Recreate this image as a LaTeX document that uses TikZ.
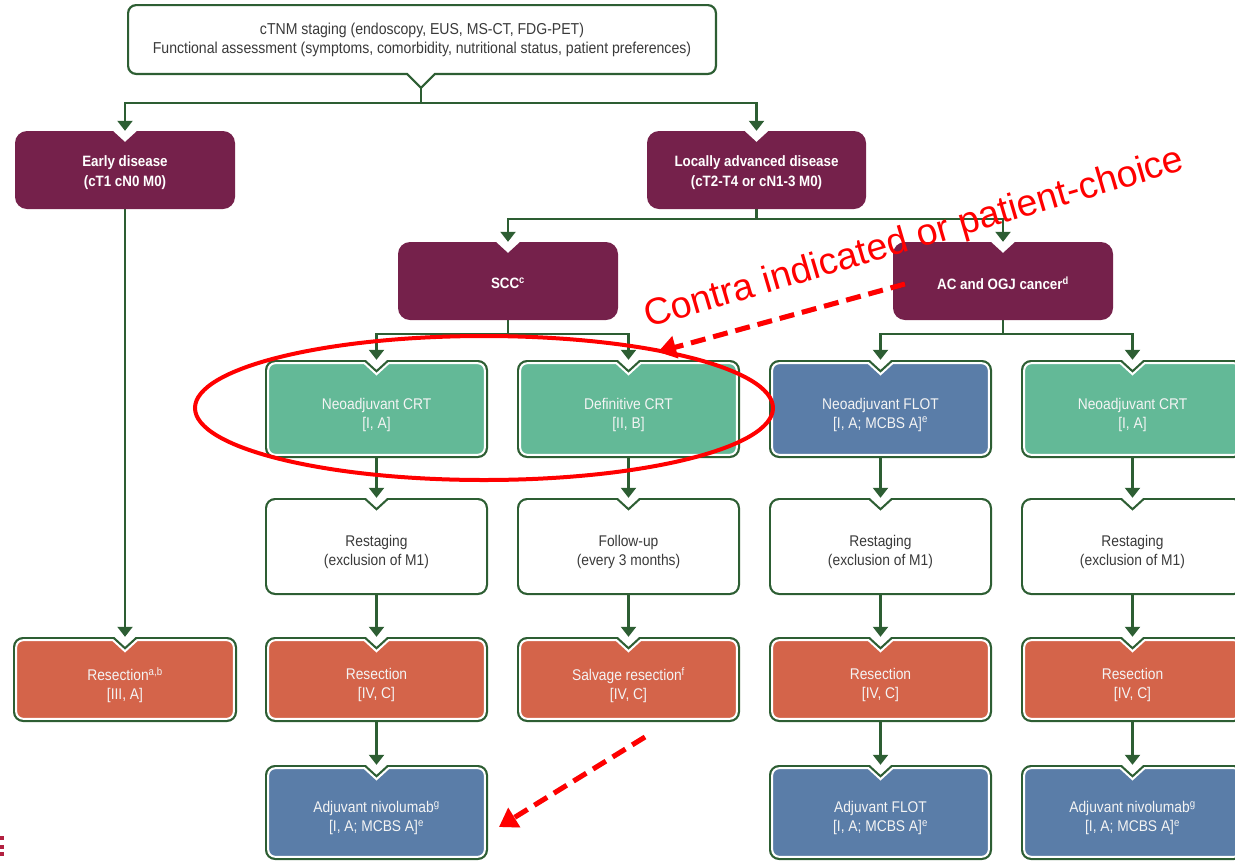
\documentclass[tikz,border=0pt]{standalone}
\usepackage{fontspec}
\setmainfont{Liberation Sans}
\newfontfamily\condfont[FakeStretch=0.89]{Liberation Sans}
\newfontfamily\annofont{Liberation Sans}
\usetikzlibrary{arrows.meta}

\definecolor{esmopurple}{HTML}{75214B}
\definecolor{crtgreen}{HTML}{63B997}
\definecolor{flotblue}{HTML}{5A7DA8}
\definecolor{resorange}{HTML}{D4644A}
\definecolor{linegreen}{HTML}{2D5E33}
\definecolor{darktext}{HTML}{3A3A3A}
\definecolor{lighttext}{HTML}{F4F4F4}
\definecolor{markred}{HTML}{B22040}

\pgfdeclarelayer{wires}
\pgfdeclarelayer{frames}
\pgfsetlayers{wires,frames,main}

% Rounded frame with a V notch in the top edge.
% #1 style, #2 cx, #3 cy, #4 w, #5 h, #6 inset, #7 corner radius
\newcommand{\notchframe}[7]{%
  \pgfmathsetmacro\bfa{#2-#4/2+#6}%
  \pgfmathsetmacro\bfc{#2+#4/2-#6}%
  \pgfmathsetmacro\bfb{#3-#5/2+#6}%
  \pgfmathsetmacro\bfe{#3+#5/2-#6}%
  \pgfmathsetmacro\bfm{#2}%
  \pgfmathsetmacro\bfr{#7}%
  \pgfmathsetmacro\bfk{0.4477*#7}%
  \path[#1] ({\bfa},{\bfb+\bfr}) .. controls ({\bfa},{\bfb+\bfk}) and ({\bfa+\bfk},{\bfb}) .. ({\bfa+\bfr},{\bfb})
    -- ({\bfm-12},{\bfb}) -- ({\bfm},{\bfb+11}) -- ({\bfm+12},{\bfb})
    -- ({\bfc-\bfr},{\bfb}) .. controls ({\bfc-\bfk},{\bfb}) and ({\bfc},{\bfb+\bfk}) .. ({\bfc},{\bfb+\bfr})
    -- ({\bfc},{\bfe-\bfr}) .. controls ({\bfc},{\bfe-\bfk}) and ({\bfc-\bfk},{\bfe}) .. ({\bfc-\bfr},{\bfe})
    -- ({\bfa+\bfr},{\bfe}) .. controls ({\bfa+\bfk},{\bfe}) and ({\bfa},{\bfe-\bfk}) .. ({\bfa},{\bfe-\bfr}) -- cycle;
}

% Purple category box: #1 name, #2 cx, #3 cy, #4 w, #5 h, #6 text
\newcommand{\catbox}[6]{%
  \node[boxarea, minimum width=#4pt, minimum height=#5pt] (#1) at (#2,#3) {};
  \node[ptext] (#1-label) at (#2,#3+2.5) {#6};
  \begin{pgfonlayer}{frames}
    \notchframe{fill=esmopurple}{#2}{#3}{#4}{#5}{0}{12}
  \end{pgfonlayer}
}

% Outlined step box: #1 name, #2 cx, #3 cy, #4 w, #5 h, #6 fill colour, #7 text style, #8 text
\newcommand{\flowstep}[8]{%
  \node[boxarea, minimum width=#4pt, minimum height=#5pt] (#1) at (#2,#3) {};
  \node[#7] (#1-label) at (#2,#3+5.5) {#8};
  \begin{pgfonlayer}{frames}
    \notchframe{lframe=#6}{#2}{#3}{#4}{#5}{3.2}{7}
  \end{pgfonlayer}
}

\begin{document}
\begin{tikzpicture}[x=1pt,y=-1pt,
  boxarea/.style={inner sep=0pt, draw=none},
  basetext/.style={inner sep=0pt, align=center, font=\condfont\fontsize{15.5}{19}\selectfont},
  ptext/.style={basetext, text=white, font=\condfont\bfseries\fontsize{15}{19.5}\selectfont},
  ltext/.style={basetext, text=lighttext},
  dtext/.style={basetext, text=darktext},
  lframe/.style={preaction={draw=linegreen, line width=6.4pt}, fill=#1, draw=white, line width=2pt},
  conn/.style={draw=linegreen, line width=2.2pt, -{Triangle[width=15pt,length=10pt]}},
  plain/.style={draw=linegreen, line width=2.2pt},
  annoarrow/.style={draw=red, line width=5pt, dash pattern=on 15pt off 8pt, -{Triangle[width=22pt,length=18pt]}},
  annoshadow/.style={draw=black, opacity=0.18, line width=5pt, dash pattern=on 15pt off 8pt, -{Triangle[width=22pt,length=18pt]}},
]
\useasboundingbox (0,0) rectangle (1235,863);
\begin{scope}
\clip (0,0) rectangle (1235,863);

% ---- top assessment box (callout with a V at the bottom)
\node[boxarea, minimum width=590pt, minimum height=71pt] (top) at (422,39.5) {};
\node[dtext, font=\condfont\fontsize{15.8}{18.5}\selectfont] (top-label) at (422,40)
  {cTNM staging (endoscopy, EUS, MS-CT, FDG-PET)\\Functional assessment (symptoms, comorbidity, nutritional status, patient preferences)};
\begin{pgfonlayer}{frames}
  \path[fill=white, draw=linegreen, line width=2.2pt]
    (128.1,13.1) .. controls (128.1,8.7) and (131.7,5.1) .. (136.1,5.1)
    -- (707.9,5.1) .. controls (712.3,5.1) and (715.9,8.7) .. (715.9,13.1)
    -- (715.9,65.9) .. controls (715.9,70.3) and (712.3,73.9) .. (707.9,73.9)
    -- (435,73.9) -- (421,87.9) -- (407,73.9)
    -- (136.1,73.9) .. controls (131.7,73.9) and (128.1,70.3) .. (128.1,65.9) -- cycle;
\end{pgfonlayer}

% ---- disease categories
\catbox{early}{125}{170}{220}{78}{Early disease\\(cT1 cN0 M0)}
\catbox{local}{756.5}{170}{219}{78}{Locally advanced disease\\(cT2-T4 or cN1-3 M0)}
\catbox{scc}{508}{281}{220}{78}{SCC\textsuperscript{c}}
\catbox{ac}{1003}{281}{220}{78}{AC and OGJ cancer\textsuperscript{d}}

% ---- treatment columns
\flowstep{crtA}{376.5}{409}{223}{98}{crtgreen}{ltext}{Neoadjuvant CRT\\{[I, A]}}
\flowstep{defcrt}{628.5}{409}{223}{98}{crtgreen}{ltext}{Definitive CRT\\{[II, B]}}
\flowstep{flot}{880.5}{409}{223}{98}{flotblue}{ltext}{Neoadjuvant FLOT\\{[I, A; MCBS A]}\textsuperscript{e}}
\flowstep{crtB}{1132.5}{409}{223}{98}{crtgreen}{ltext}{Neoadjuvant CRT\\{[I, A]}}

\flowstep{restA}{376.5}{546.5}{223}{97}{white}{dtext}{Restaging\\(exclusion of M1)}
\flowstep{follow}{628.5}{546.5}{223}{97}{white}{dtext}{Follow-up\\(every 3 months)}
\flowstep{restB}{880.5}{546.5}{223}{97}{white}{dtext}{Restaging\\(exclusion of M1)}
\flowstep{restC}{1132.5}{546.5}{223}{97}{white}{dtext}{Restaging\\(exclusion of M1)}

\flowstep{resE}{125}{679.5}{224}{85}{resorange}{ltext}{Resection\textsuperscript{a,b}\\{[III, A]}}
\flowstep{resA}{376.5}{679.5}{223}{85}{resorange}{ltext}{Resection\\{[IV, C]}}
\flowstep{salv}{628.5}{679.5}{223}{85}{resorange}{ltext}{Salvage resection\textsuperscript{f}\\{[IV, C]}}
\flowstep{resB}{880.5}{679.5}{223}{85}{resorange}{ltext}{Resection\\{[IV, C]}}
\flowstep{resC}{1132.5}{679.5}{223}{85}{resorange}{ltext}{Resection\\{[IV, C]}}

\flowstep{nivoA}{376.5}{812.5}{223}{95}{flotblue}{ltext}{Adjuvant nivolumab\textsuperscript{g}\\{[I, A; MCBS A]}\textsuperscript{e}}
\flowstep{adjflot}{880.5}{812.5}{223}{95}{flotblue}{ltext}{Adjuvant FLOT\\{[I, A; MCBS A]}\textsuperscript{e}}
\flowstep{nivoB}{1132.5}{812.5}{223}{95}{flotblue}{ltext}{Adjuvant nivolumab\textsuperscript{g}\\{[I, A; MCBS A]}\textsuperscript{e}}

% ---- connectors
\coordinate (split0) at (421,103);
\coordinate (split1) at (756.5,219);
\coordinate (split2) at (508,334);
\coordinate (split3) at (1003,334);
\begin{pgfonlayer}{wires}
  \draw[plain] (421,74) -- (split0);
  \draw[conn] (split0) -| (early.north);
  \draw[conn] (split0) -| (local.north);
  \draw[conn] (early.south) -- (resE.north);
  \draw[plain] (local.south) -- (split1);
  \draw[conn] (split1) -| (scc.north);
  \draw[conn] (split1) -| (ac.north);
  \draw[plain] (scc.south) -- (split2);
  \draw[conn] (split2) -| (crtA.north);
  \draw[conn] (split2) -| (defcrt.north);
  \draw[plain] (ac.south) -- (split3);
  \draw[conn] (split3) -| (flot.north);
  \draw[conn] (split3) -| (crtB.north);
  \draw[conn] (crtA.south) -- (restA.north);
  \draw[conn] (restA.south) -- (resA.north);
  \draw[conn] (resA.south) -- (nivoA.north);
  \draw[conn] (defcrt.south) -- (follow.north);
  \draw[conn] (follow.south) -- (salv.north);
  \draw[conn] (flot.south) -- (restB.north);
  \draw[conn] (restB.south) -- (resB.north);
  \draw[conn] (resB.south) -- (adjflot.north);
  \draw[conn] (crtB.south) -- (restC.north);
  \draw[conn] (restC.south) -- (resC.north);
  \draw[conn] (resC.south) -- (nivoB.north);
\end{pgfonlayer}

% ---- red annotations
\draw[red, line width=4pt] (484,408) ellipse [x radius=289pt, y radius=72pt];
\node[anchor=base west, rotate=16.4, inner sep=0pt, text=red,
      font=\annofont\fontsize{37.5}{40}\selectfont] (note) at (648,328) {Contra indicated or patient-choice};
\coordinate (noteA) at (905,284);
\coordinate (noteAend) at (658,352);
\coordinate (noteB) at (645,737);
\coordinate (noteBend) at (499,827);
\draw[annoshadow, shift={(1.5,3)}] (noteA) -- (noteAend);
\draw[annoshadow, shift={(1.5,3)}] (noteB) -- (noteBend);
\draw[annoarrow] (noteA) -- (noteAend);
\draw[annoarrow] (noteB) -- (noteBend);

% ---- small mark at the lower left edge
\fill[markred] (0,836) rectangle (4,840);
\fill[markred] (0,845) rectangle (4,849);
\fill[markred] (0,852) rectangle (4,856);
\end{scope}
\end{tikzpicture}
\end{document}
